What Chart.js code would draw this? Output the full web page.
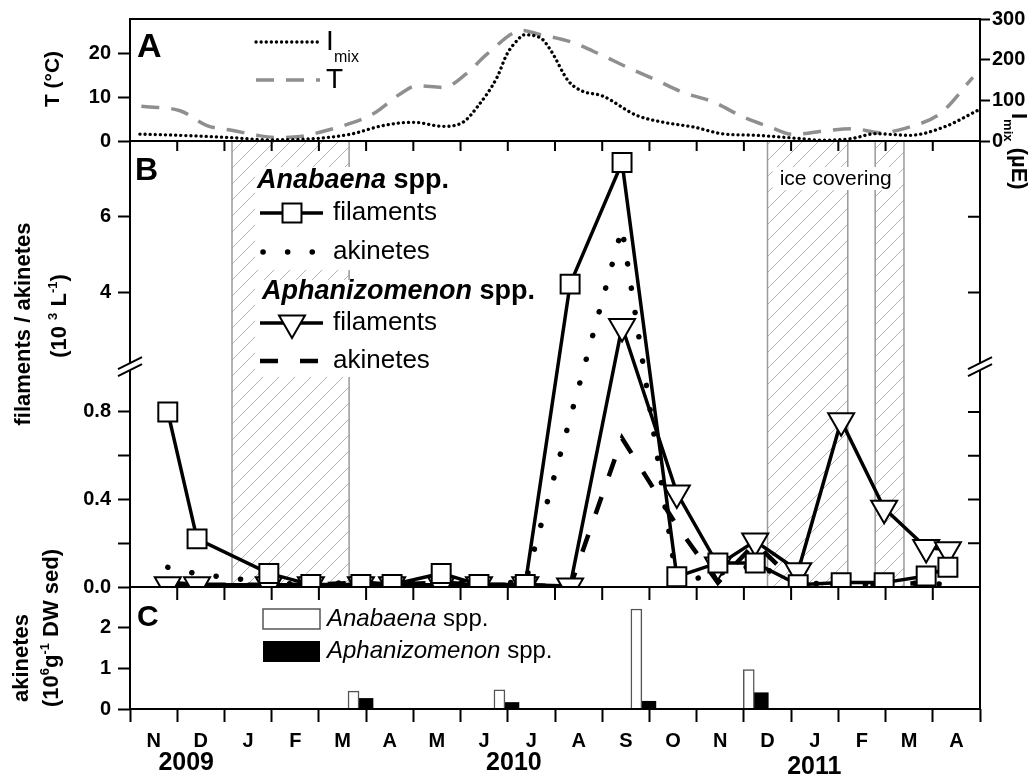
<!DOCTYPE html>
<html>
<head>
<meta charset="utf-8">
<script src="https://cdn.jsdelivr.net/npm/chart.js@4.4.1/dist/chart.umd.min.js"></script>
<style>
  html, body { margin: 0; padding: 0; background: #fff; }
  #wrap { position: relative; width: 1033px; height: 776px; }
  #wrap canvas { position: absolute; left: 0; top: 0; }
</style>
</head>
<body>
<div id="wrap">
  <canvas id="panelA" width="1033" height="776"></canvas>
  <canvas id="panelB" width="1033" height="776"></canvas>
  <canvas id="panelC" width="1033" height="776"></canvas>
</div>
<script>
// all x values are months since 1 Nov 2009
const months = ['N', 'D', 'J', 'F', 'M', 'A', 'M', 'J', 'J', 'A', 'S', 'O', 'N', 'D', 'J', 'F', 'M', 'A'];
const years = ['2009', '2010', '2011'];
const yearAt = [1.19, 8.13, 14.49];
const icePeriods = [[2.16, 4.64], [13.50, 15.20], [15.78, 16.39]];

// panel A: water temperature and mean light in the mixed layer
const tDates = [0.24, 1.06, 1.63, 2.18, 2.69, 3.11, 3.6, 4.02, 4.66, 5.15, 5.72, 6.08, 6.63, 7.14, 7.56, 8.31, 8.63, 9.33, 10.0, 10.59, 11.16, 11.73, 12.33, 13.0, 13.55, 14.05, 14.77, 15.31, 15.89, 16.54, 17.15, 17.85];
const tVals = [7.9, 6.9, 3.5, 2.4, 1.3, 0.8, 1.0, 2.0, 4.0, 6.2, 10.7, 12.6, 12.2, 15.5, 19.8, 25.2, 24.4, 22.6, 19.5, 16.5, 13.8, 11.0, 9.0, 5.4, 3.2, 1.5, 2.4, 2.8, 1.9, 3.3, 6.2, 14.5];
const iDates = [0.21, 1.06, 2.18, 2.9, 3.6, 4.3, 4.72, 5.36, 6.0, 6.63, 7.05, 7.35, 7.77, 7.98, 8.22, 8.34, 8.7, 8.92, 9.28, 9.57, 10.0, 10.73, 11.3, 11.95, 12.53, 13.26, 13.98, 14.7, 15.28, 15.79, 16.51, 17.23, 17.95];
const iVals = [17, 14, 8, 3, 4, 10, 18, 38, 46, 36, 46, 83, 156, 213, 250, 261, 253, 221, 148, 123, 111, 63, 46, 34, 18, 14, 8, 2, 6, 18, 14, 34, 75];

// panel B: filaments / akinetes in the water (10^3 L-1)
const sampleDates = [0.80, 1.42, 2.94, 3.83, 4.89, 5.55, 6.59, 7.39, 8.37, 9.32, 10.42, 11.58, 12.45, 13.24, 14.15, 15.06, 15.97, 16.86, 17.32];
const anaFil = [0.80, 0.22, 0.062, 0.011, 0.011, 0.011, 0.062, 0.011, 0.011, 4.22, 7.43, 0.047, 0.11, 0.11, 0.01, 0.02, 0.02, 0.05, 0.09];
const anaAki = [0.09, 0.06, 0.02, 0.01, 0.025, 0.02, 0.02, 0.02, 0.02, null, 5.7, 0.02, 0.06, 0.10, 0.02, 0.01, 0.01, 0.02, 0.01];
const aphFil = [0.01, 0.01, 0.01, 0.01, 0.01, 0.01, 0.01, 0.01, 0.01, 0.005, 3.10, 0.43, 0.10, 0.21, 0.074, 0.76, 0.36, 0.18, 0.17];
const aphAki = [0.02, 0.01, 0.01, 0.01, 0.02, 0.01, 0.02, 0.01, 0.01, 0.0, 0.68, 0.28, 0.02, 0.20, 0.01, 0.01, 0.01, 0.02, 0.01];
const bTickVals = [0, 0.2, 0.4, 0.6, 0.8, 4, 6];
const bTickLabels = ['0.0', '', '0.4', '', '0.8', '4', '6'];

// panel C: akinetes in the sediment (10^6 g-1 DW sed)
const sedDates = [4.85, 7.94, 10.84, 13.22];
const sedAna = [0.44, 0.47, 2.46, 0.97];
const sedAph = [0.26, 0.16, 0.19, 0.40];

const FONT = "'Liberation Sans', Arial, sans-serif";
const W = 1033, H = 776;
const LEFT = 130, RIGHT = 980;
const A_TOP = 18, A_BOT = 141, B_BOT = 587, C_BOT = 709;

// the y axis of B is broken: 0-1 below the break, 2-8 squeezed above
function brk(v) {
    if (v === null) return null;
    return v <= 1 ? v : 1 + (v - 2) * 0.173;
}

const pts = (xs, ys, f) => xs.map((x, i) => ({ x: x, y: f ? f(ys[i]) : ys[i] }));

const tickFont = { family: FONT, size: 20, weight: 'bold' };

function rich(ctx, parts, x, y, rot, align) {
    ctx.save();
    ctx.translate(x, y);
    ctx.rotate(rot || 0);
    ctx.fillStyle = '#000';
    ctx.textAlign = 'left';
    ctx.textBaseline = 'middle';
    let w = 0;
    const sized = parts.map(([t, f, dy]) => {
        ctx.font = f + ' ' + FONT;
        const pw = ctx.measureText(t).width;
        w += pw;
        return { t, f: f + ' ' + FONT, dy: dy || 0, pw };
    });
    let cx = align === 'left' ? 0 : -w / 2;
    sized.forEach(p => {
        ctx.font = p.f;
        ctx.fillText(p.t, cx, p.dy);
        cx += p.pw;
    });
    ctx.restore();
}

function frame(ctx, a) {
    ctx.save();
    ctx.strokeStyle = '#000';
    ctx.lineWidth = 2;
    ctx.strokeRect(a.left, a.top, a.right - a.left, a.bottom - a.top);
    ctx.restore();
}

function letter(ctx, t, x, y, size) {
    ctx.save();
    ctx.fillStyle = '#000';
    ctx.font = 'bold ' + size + 'px ' + FONT;
    ctx.textBaseline = 'alphabetic';
    ctx.fillText(t, x, y);
    ctx.restore();
}

function sampleLine(ctx, ds, x1, x2, y) {
    ctx.save();
    ctx.strokeStyle = ds.borderColor;
    ctx.lineWidth = ds.borderWidth;
    ctx.lineCap = ds.borderCapStyle || 'butt';
    ctx.setLineDash(ds.borderDash || []);
    ctx.beginPath();
    ctx.moveTo(x1, y);
    ctx.lineTo(x2, y);
    ctx.stroke();
    ctx.restore();
}

function marker(ctx, ds, x, y) {
    ctx.save();
    ctx.fillStyle = ds.pointBackgroundColor;
    ctx.strokeStyle = ds.pointBorderColor;
    ctx.lineWidth = ds.pointBorderWidth;
    Chart.helpers.drawPoint(ctx, {
        pointStyle: ds.pointStyle, radius: ds.pointRadius,
        rotation: ds.pointRotation || 0, borderWidth: ds.pointBorderWidth
    }, x, y);
    ctx.restore();
}

function monthTicks(ctx, chart, y0, len) {
    const x = chart.scales.x;
    ctx.save();
    ctx.strokeStyle = '#000';
    ctx.lineWidth = 2;
    ctx.beginPath();
    for (let m = 1; m < months.length; m++) {
        const px = x.getPixelForValue(m);
        ctx.moveTo(px, y0);
        ctx.lineTo(px, y0 + len);
    }
    ctx.stroke();
    ctx.restore();
}

function hatch(ctx) {
    const p = document.createElement('canvas');
    p.width = 16; p.height = 16;
    const g = p.getContext('2d');
    g.strokeStyle = '#b4b4b4';
    g.lineWidth = 1;
    g.beginPath();
    g.moveTo(0, 16); g.lineTo(16, 0);
    g.moveTo(-4, 4); g.lineTo(4, -4);
    g.moveTo(12, 20); g.lineTo(20, 12);
    g.stroke();
    return ctx.createPattern(p, 'repeat');
}

const baseOpts = {
    responsive: false,
    animation: false,
    devicePixelRatio: 1,
    events: [],
    plugins: { legend: { display: false }, tooltip: { enabled: false } }
};

// ---------------- panel A ----------------
const panelAExtras = {
    id: 'panelAExtras',
    afterDraw(chart) {
        const ctx = chart.ctx;
        const [imix, temp] = chart.data.datasets;
        frame(ctx, chart.chartArea);
        letter(ctx, 'A', 137, 57, 34);
        sampleLine(ctx, imix, 256, 320, 42);
        sampleLine(ctx, temp, 256, 320, 80);
        rich(ctx, [['I', '28px']], 326, 42, 0, 'left');
        rich(ctx, [['mix', '16px']], 334, 58, 0, 'left');
        rich(ctx, [['T', '28px']], 326, 80, 0, 'left');
        rich(ctx, [['T (°C)', 'bold 21px']], 53, 79, -Math.PI / 2);
        rich(ctx, [['I', 'bold 22px'], ['mix', 'bold 13px', 10], [' (µE)', 'bold 22px']], 1018, 113, Math.PI / 2, 'left');
    }
};

new Chart(document.getElementById('panelA'), {
    type: 'line',
    data: {
        datasets: [{
            label: 'Imix',
            data: pts(iDates, iVals),
            yAxisID: 'yI',
            borderColor: '#000',
            borderWidth: 3.3,
            borderDash: [0.1, 5],
            borderCapStyle: 'round',
            pointRadius: 0,
            cubicInterpolationMode: 'monotone'
        }, {
            label: 'T',
            data: pts(tDates, tVals),
            yAxisID: 'yT',
            borderColor: '#8f8f8f',
            borderWidth: 3.5,
            borderDash: [18, 12],
            pointRadius: 0,
            cubicInterpolationMode: 'monotone'
        }]
    },
    options: {
        ...baseOpts,
        layout: { padding: { top: A_TOP, bottom: H - A_BOT, left: 0, right: 0 } },
        scales: {
            x: { type: 'linear', min: 0, max: 18, display: false },
            yT: {
                position: 'left', min: 0, max: 27.8,
                afterFit: s => { s.width = LEFT; },
                afterBuildTicks: s => { s.ticks = [0, 10, 20].map(v => ({ value: v })); },
                ticks: { font: tickFont, color: '#000', padding: 7 },
                grid: { drawOnChartArea: false, tickLength: 12, tickWidth: 2, tickColor: '#000' },
                border: { display: false }
            },
            yI: {
                position: 'right', min: 0, max: 300,
                afterFit: s => { s.width = W - RIGHT; },
                ticks: { stepSize: 100, font: tickFont, color: '#000', padding: 2 },
                grid: { drawOnChartArea: false, tickLength: 10, tickWidth: 2, tickColor: '#000' },
                border: { display: false }
            }
        }
    },
    plugins: [panelAExtras]
});

// ---------------- panel B ----------------
const panelBExtras = {
    id: 'panelBExtras',
    beforeDatasetsDraw(chart) {
        const { ctx, chartArea: a } = chart;
        const x = chart.scales.x;
        ctx.save();
        const pat = hatch(ctx);
        icePeriods.forEach(([s, e]) => {
            const x1 = x.getPixelForValue(s), x2 = x.getPixelForValue(e);
            ctx.fillStyle = pat;
            ctx.fillRect(x1, a.top, x2 - x1, a.bottom - a.top);
            ctx.strokeStyle = '#9a9a9a';
            ctx.lineWidth = 1.5;
            ctx.beginPath();
            ctx.moveTo(x1, a.top); ctx.lineTo(x1, a.bottom);
            ctx.moveTo(x2, a.top); ctx.lineTo(x2, a.bottom);
            ctx.stroke();
        });
        const mid = (x.getPixelForValue(icePeriods[1][0]) + x.getPixelForValue(icePeriods[2][1])) / 2;
        ctx.fillStyle = '#fff';
        ctx.fillRect(mid - 63, 167, 126, 23);
        ctx.restore();
        rich(ctx, [['ice covering', '21px']], mid, 179, 0);
    },
    afterDatasetsDraw(chart) {
        const ctx = chart.ctx;
        const ds = chart.data.datasets;
        ctx.save();
        ctx.fillStyle = '#fff';
        ctx.fillRect(255, 167, 96, 103);
        ctx.fillRect(255, 280, 96, 97);
        ctx.restore();
        rich(ctx, [['Anabaena', 'italic bold 27px'], [' spp.', 'bold 27px']], 257, 181, 0, 'left');
        rich(ctx, [['Aphanizomenon', 'italic bold 27px'], [' spp.', 'bold 27px']], 262, 292, 0, 'left');
        const rows = [[0, 213, 260, 323], [2, 252, 263, 313], [1, 323, 260, 323], [3, 361, 260, 318]];
        rows.forEach(([i, y, x1, x2]) => {
            sampleLine(ctx, ds[i], x1, x2, y);
            if (ds[i].pointRadius) marker(ctx, ds[i], 292, y);
            rich(ctx, [[i < 2 ? 'filaments' : 'akinetes', '26px']], 333, y, 0, 'left');
        });
    },
    afterDraw(chart) {
        const { ctx, chartArea: a } = chart;
        const y = chart.scales.y;
        frame(ctx, a);
        monthTicks(ctx, chart, a.top, 10);
        ctx.save();
        ctx.strokeStyle = '#000';
        ctx.lineWidth = 2;
        ctx.beginPath();
        y.ticks.forEach(t => {
            const py = y.getPixelForValue(t.value);
            ctx.moveTo(a.right - 12, py);
            ctx.lineTo(a.right, py);
        });
        ctx.stroke();
        // axis break marks
        const yb = (y.getPixelForValue(1) + y.getPixelForValue(brk(2))) / 2 - 2;
        [a.left, a.right].forEach(px => {
            ctx.fillStyle = '#fff';
            ctx.beginPath();
            ctx.moveTo(px - 12, yb + 3); ctx.lineTo(px + 12, yb - 9);
            ctx.lineTo(px + 12, yb - 2); ctx.lineTo(px - 12, yb + 10);
            ctx.closePath();
            ctx.fill();
            ctx.beginPath();
            ctx.moveTo(px - 12, yb + 3); ctx.lineTo(px + 12, yb - 9);
            ctx.moveTo(px - 12, yb + 10); ctx.lineTo(px + 12, yb - 2);
            ctx.stroke();
        });
        ctx.restore();
        letter(ctx, 'B', 135, 180, 32);
        rich(ctx, [['filaments / akinetes', 'bold 22px']], 24, 324, -Math.PI / 2);
        rich(ctx, [['(10 ', 'bold 22px'], ['3', 'bold 13px', -7], [' L', 'bold 22px'], ['-1', 'bold 13px', -7], [')', 'bold 22px']], 60, 316, -Math.PI / 2);
    }
};

new Chart(document.getElementById('panelB'), {
    type: 'line',
    data: {
        datasets: [{
            label: 'Anabaena filaments',
            data: pts(sampleDates, anaFil, brk),
            borderColor: '#000', borderWidth: 3.5,
            pointStyle: 'rect', pointRadius: 13.4, pointBorderWidth: 2,
            pointBackgroundColor: '#fff', pointBorderColor: '#000',
            clip: 0
        }, {
            label: 'Aphanizomenon filaments',
            data: pts(sampleDates, aphFil, brk),
            borderColor: '#000', borderWidth: 3.5,
            pointStyle: 'triangle', pointRotation: 180, pointRadius: 15, pointBorderWidth: 2,
            pointBackgroundColor: '#fff', pointBorderColor: '#000',
            clip: 0
        }, {
            label: 'Anabaena akinetes',
            data: pts(sampleDates, anaAki, brk),
            borderColor: '#000', borderWidth: 5.5,
            borderDash: [0.1, 24.5], borderCapStyle: 'round',
            pointRadius: 0, spanGaps: true,
            clip: 0
        }, {
            label: 'Aphanizomenon akinetes',
            data: pts(sampleDates, aphAki, brk),
            borderColor: '#000', borderWidth: 4.5,
            borderDash: [18, 22],
            pointRadius: 0,
            clip: 0
        }]
    },
    options: {
        ...baseOpts,
        layout: { padding: { top: A_BOT, bottom: H - B_BOT, left: 0, right: W - RIGHT } },
        scales: {
            x: { type: 'linear', min: 0, max: 18, display: false },
            y: {
                min: 0, max: brk(8),
                afterFit: s => { s.width = LEFT; },
                afterBuildTicks: s => { s.ticks = bTickVals.map(v => ({ value: brk(v) })); },
                ticks: { autoSkip: false, callback: (v, i) => bTickLabels[i], font: tickFont, color: '#000', padding: 7 },
                grid: { drawOnChartArea: false, tickLength: 12, tickWidth: 2, tickColor: '#000' },
                border: { display: false }
            }
        }
    },
    plugins: [panelBExtras]
});

// ---------------- panel C ----------------
const panelCExtras = {
    id: 'panelCExtras',
    afterDraw(chart) {
        const { ctx, chartArea: a } = chart;
        const ds = chart.data.datasets;
        frame(ctx, a);
        monthTicks(ctx, chart, a.top, 13);
        ctx.save();
        ctx.fillStyle = ds[0].backgroundColor;
        ctx.strokeStyle = ds[0].borderColor;
        ctx.lineWidth = 1.5;
        ctx.fillRect(263, 609, 57, 20);
        ctx.strokeRect(263, 609, 57, 20);
        ctx.fillStyle = ds[1].backgroundColor;
        ctx.fillRect(263, 641, 57, 21);
        ctx.restore();
        rich(ctx, [['Anabaena', 'italic 24px'], [' spp.', '24px']], 327, 619, 0, 'left');
        rich(ctx, [['Aphanizomenon', 'italic 24px'], [' spp.', '24px']], 327, 651, 0, 'left');
        letter(ctx, 'C', 137, 626, 30);
        const x = chart.scales.x;
        years.forEach((yr, i) => {
            rich(ctx, [[yr, 'bold 25px']], x.getPixelForValue(yearAt[i]), i === 2 ? 767 : 763, 0);
        });
        rich(ctx, [['akinetes', 'bold 22px']], 22, 658, -Math.PI / 2);
        rich(ctx, [['(10', 'bold 22px'], ['6', 'bold 13px', -7], ['g', 'bold 22px'], ['-1', 'bold 13px', -7], [' DW sed)', 'bold 22px']], 52, 628, -Math.PI / 2);
    }
};

new Chart(document.getElementById('panelC'), {
    type: 'bar',
    data: {
        datasets: [{
            label: 'Anabaena spp.',
            data: pts(sedDates, sedAna),
            backgroundColor: '#fff', borderColor: '#555', borderWidth: 1.5,
            barThickness: 11
        }, {
            label: 'Aphanizomenon spp.',
            data: pts(sedDates, sedAph),
            backgroundColor: '#000', borderColor: '#000', borderWidth: 0,
            barThickness: 14
        }]
    },
    options: {
        ...baseOpts,
        layout: { padding: { top: B_BOT, bottom: 0, left: 0, right: W - RIGHT } },
        scales: {
            x: {
                type: 'linear', min: 0, max: 18, offset: false,
                afterFit: s => { s.height = H - C_BOT; },
                afterBuildTicks: s => {
                    const t = [];
                    for (let i = 0; i <= 36; i++) t.push({ value: i * 0.5 });
                    s.ticks = t;
                },
                ticks: {
                    autoSkip: false, maxRotation: 0, minRotation: 0,
                    callback: v => (v % 1 === 0.5 ? months[Math.floor(v)] : ''),
                    font: tickFont, color: '#000', padding: 7
                },
                grid: {
                    drawOnChartArea: false, offset: false, tickLength: 13, tickWidth: 2,
                    tickColor: c => (c.tick && c.tick.value % 1 === 0 ? '#000' : 'rgba(0,0,0,0)')
                },
                border: { display: false }
            },
            y: {
                min: 0, max: 3,
                afterFit: s => { s.width = LEFT; },
                afterBuildTicks: s => { s.ticks = [0, 1, 2].map(v => ({ value: v })); },
                ticks: { font: tickFont, color: '#000', padding: 7 },
                grid: { drawOnChartArea: false, tickLength: 12, tickWidth: 2, tickColor: '#000' },
                border: { display: false }
            }
        }
    },
    plugins: [panelCExtras]
});
</script>
</body>
</html>
